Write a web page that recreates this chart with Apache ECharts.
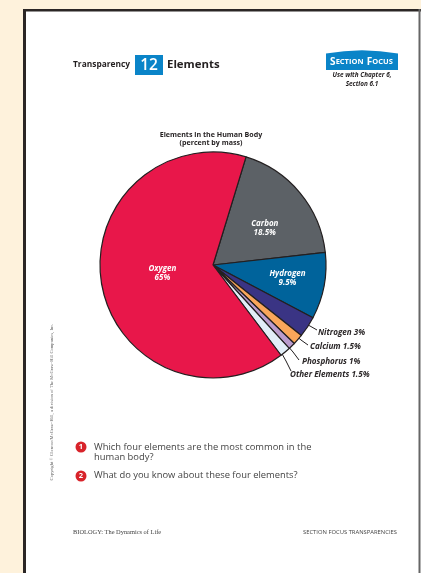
<!DOCTYPE html>
<html>
<head>
<meta charset="utf-8">
<style>html,body{margin:0;padding:0;background:#fef2dc}#chart{width:421px;height:573px}</style>
<script src="https://cdn.jsdelivr.net/npm/echarts@6/dist/echarts.min.js"></script>
</head>
<body>
<div id="chart"></div>
<script>
// Composition of the human body by mass, clockwise from the Carbon slice
const elements = ['Carbon', 'Hydrogen', 'Nitrogen', 'Calcium', 'Phosphorus', 'Other Elements', 'Oxygen'];
const percents = [18.5, 9.5, 3, 1.5, 1, 1.5, 65];
const sliceColors = ['#5c6166', '#00639b', '#3a3484', '#f9a65a', '#b99bcd', '#e2eef8', '#e8174a'];
const chartTitle = 'Elements in the Human Body\n(percent by mass)';
const questions = ['Which four elements are the most common in the\nhuman body?', 'What do you know about these four elements?'];

const SANS = '"Open Sans", "Noto Sans", sans-serif';
const SERIF = '"Liberation Serif", serif';
const INK = '#231f20';
const BLUE = '#0a84c8';

// Nudges for the labels that sit inside large slices
const insideShift = { Carbon: [6, 1], Hydrogen: [16, 2], Oxygen: [8, -2] };
// Label anchors and leader paths for the callouts beside the narrow slices
const callouts = {
  Nitrogen: { at: [318, 333], leader: [[302, 322], [310, 326], [317, 330]] },
  Calcium: { at: [310, 347], leader: [[295, 335], [301, 340], [308, 345]] },
  Phosphorus: { at: [302, 362], leader: [[287, 345], [293, 352], [299, 360]] },
  'Other Elements': { at: [290, 375], leader: [[281, 352], [286, 361], [291, 371]] }
};

const pieData = elements.map((name, i) => ({
  name,
  value: percents[i],
  itemStyle: { color: sliceColors[i] },
  label: callouts[name]
    ? { position: 'outside', color: '#2b2728', align: 'left', fontSize: 8.1, formatter: `${name} ${percents[i]}%` }
    : { position: 'inside', color: '#fff', align: 'center', lineHeight: 9, formatter: `${name}\n${percents[i]}%` },
  labelLine: { show: !!callouts[name] }
}));

function pageText(x, y, text, style) {
  return { type: 'text', x, y, silent: true, style: Object.assign({ text, fill: INK, font: '10px ' + SANS }, style) };
}

function questionMark(y, n) {
  return [
    { type: 'circle', shape: { cx: 81, cy: y, r: 5.5 }, style: { fill: '#d8232a' }, silent: true },
    pageText(81, y, String(n), { fill: '#fff', font: 'bold 7.5px ' + SANS, align: 'center', verticalAlign: 'middle' })
  ];
}

const chart = echarts.init(document.getElementById('chart'), null, { renderer: 'canvas' });
chart.setOption({
  animation: false,
  backgroundColor: '#fef2dc',
  title: {
    text: chartTitle, left: 206, top: 125.5, textAlign: 'center',
    textStyle: { fontFamily: SANS, fontSize: 7.1, fontWeight: 'bold', color: INK, lineHeight: 8 }
  },
  graphic: [
    // Page sheet with a heavy frame on the top and left, a thin grey edge on the right
    { type: 'rect', z: -10, shape: { x: 23, y: 9, width: 398, height: 564 }, style: { fill: '#fff' }, silent: true },
    { type: 'rect', z: -9, shape: { x: 23, y: 9, width: 398, height: 2.5 }, style: { fill: '#2b2625' }, silent: true },
    { type: 'rect', z: -9, shape: { x: 23, y: 9, width: 3, height: 564 }, style: { fill: '#2b2625' }, silent: true },
    { type: 'rect', z: -9, shape: { x: 418.5, y: 9, width: 2, height: 564 }, style: { fill: '#666' }, silent: true },

    // Heading row
    pageText(73, 65, 'Transparency', { font: 'bold 8.4px ' + SANS, verticalAlign: 'middle' }),
    { type: 'rect', shape: { x: 135, y: 55, width: 28, height: 20 }, style: { fill: BLUE }, silent: true },
    pageText(149, 65.5, '12', { fill: '#fff', font: '600 15.5px ' + SANS, align: 'center', verticalAlign: 'middle' }),
    pageText(167, 65, 'Elements', { font: 'bold 11.4px ' + SANS, verticalAlign: 'middle' }),

    // Section badge with a gently arched top
    { type: 'polygon', silent: true, style: { fill: BLUE },
      shape: { points: [[326, 53.5], [344, 51.2], [362, 50.3], [380, 51.2], [398, 53.5], [398, 70], [326, 70]] } },
    { type: 'text', x: 361.5, y: 62, silent: true, style: {
        text: '{a|S}{b|ECTION} {a|F}{b|OCUS}', align: 'center', verticalAlign: 'middle',
        rich: {
          a: { fontFamily: SANS, fontSize: 10, fontWeight: 'bold', fill: '#fff' },
          b: { fontFamily: SANS, fontSize: 7.5, fontWeight: 'bold', fill: '#fff' }
        } } },
    pageText(362, 75, 'Use with Chapter 6,', { font: 'italic bold 6.4px ' + SANS, align: 'center', verticalAlign: 'middle' }),
    pageText(362, 84, 'Section 6.1', { font: 'italic bold 6.4px ' + SANS, align: 'center', verticalAlign: 'middle' }),

    // Questions
    ...questionMark(447, 1),
    pageText(94, 442.5, questions[0], { font: '9.4px ' + SANS, lineHeight: 10, fill: '#444', verticalAlign: 'top' }),
    ...questionMark(476, 2),
    pageText(94, 471, questions[1], { font: '9.4px ' + SANS, fill: '#444', verticalAlign: 'top' }),

    // Footer and the sideways credit line
    pageText(73, 532, 'BIOLOGY: The Dynamics of Life', { font: '6.4px ' + SERIF, fill: '#444', verticalAlign: 'middle' }),
    pageText(397, 532, 'SECTION FOCUS TRANSPARENCIES', { font: '5.85px ' + SANS, fill: '#444', align: 'right', verticalAlign: 'middle' }),
    { type: 'text', x: 52, y: 402, rotation: Math.PI / 2, silent: true, style: {
        text: 'Copyright \u00a9 Glencoe/McGraw-Hill, a division of The McGraw-Hill Companies, Inc.',
        font: '4.6px ' + SERIF, fill: '#666', align: 'center', verticalAlign: 'middle' } }
  ],
  series: [
    {
      type: 'pie', center: [213, 265], radius: [0, 113], startAngle: 73, clockwise: true,
      silent: true, avoidLabelOverlap: false, minShowLabelAngle: 0,
      data: pieData,
      itemStyle: { borderColor: '#231f20', borderWidth: 1.2 },
      label: {
        fontFamily: SANS, fontSize: 8, fontWeight: 'bold', fontStyle: 'italic', verticalAlign: 'middle'
      },
      labelLine: { lineStyle: { color: INK, width: 1 } },
      labelLayout: p => {
        const name = elements[p.dataIndex];
        if (callouts[name]) {
          const c = callouts[name];
          return { x: c.at[0], y: c.at[1], align: 'left', verticalAlign: 'middle', labelLinePoints: c.leader };
        }
        return { dx: insideShift[name][0], dy: insideShift[name][1] };
      }
    }
  ]
});
</script>
</body>
</html>
